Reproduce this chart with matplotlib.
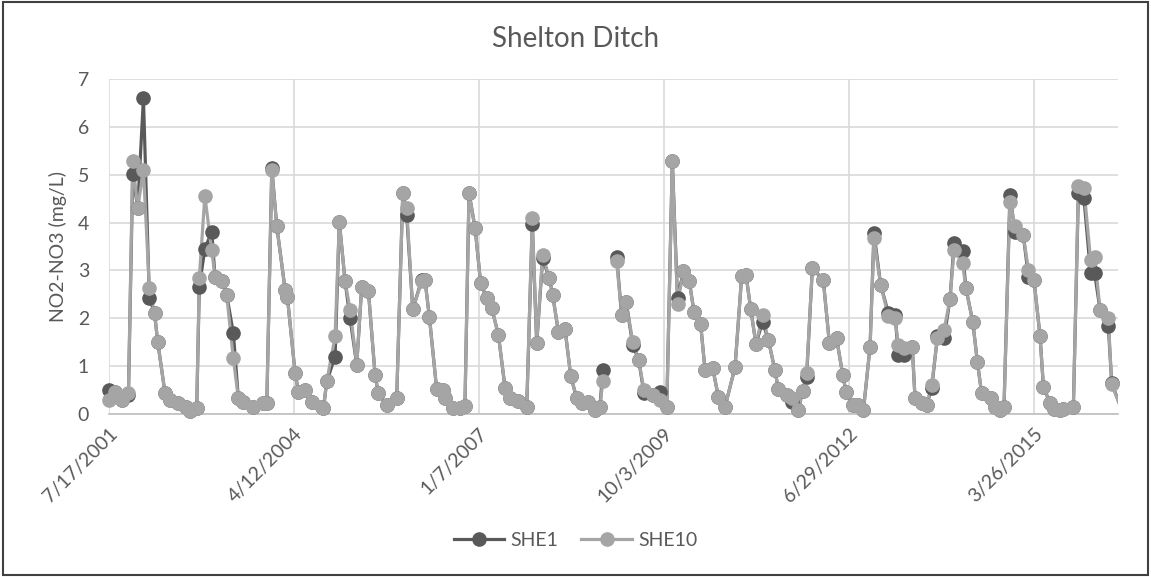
import matplotlib.pyplot as plt
import numpy as np
from matplotlib.patches import Rectangle

plt.rcParams['font.family'] = ['Lato', 'DejaVu Sans']

# sample dates, None = break in the record
dates = [
    '2001-07-17', '2001-08-21', '2001-09-26', '2001-11-01', '2001-11-24', '2001-12-21',
    '2002-01-21', '2002-02-22', '2002-03-22', '2002-04-08', '2002-05-18', '2002-06-14',
    '2002-07-29', '2002-09-08', '2002-09-30', '2002-11-05', '2002-11-19', '2002-12-19',
    '2003-01-25', '2003-02-12', '2003-03-20', '2003-04-16', '2003-05-22', '2003-06-18',
    '2003-07-15', '2003-09-07', '2003-10-31', '2003-11-19', '2003-12-16', '2004-01-12',
    '2004-02-26', '2004-03-09', '2004-04-20', '2004-05-08', '2004-06-13', '2004-07-19',
    '2004-09-11', '2004-09-20', '2004-10-08', '2004-11-22', '2004-12-15', '2005-01-15',
    '2005-02-11', '2005-03-19', '2005-04-15', '2005-05-21', '2005-06-26', '2005-07-14',
    '2005-08-28', '2005-10-21', '2005-11-23', '2005-12-14', '2006-01-16', '2006-03-05',
    '2006-03-23', '2006-04-16', '2006-05-25', '2006-06-30', '2006-07-09', '2006-08-23',
    '2006-09-29', '2006-10-25', '2006-11-16', '2006-12-19', '2007-01-18', '2007-02-19',
    '2007-03-19', '2007-04-24', '2007-05-30', '2007-06-26', '2007-08-10', '2007-09-24',
    '2007-10-24', '2007-11-17', '2007-12-19', '2008-01-24', '2008-02-11', '2008-03-13',
    '2008-04-18', '2008-05-19', '2008-06-20', '2008-07-17', '2008-08-22', '2008-09-27',
    '2008-10-24', '2008-11-08', '2008-12-15', '2009-01-22', '2009-02-18', '2009-03-14',
    '2009-04-19', '2009-05-21', '2009-06-19', '2009-08-09', '2009-09-14', '2009-10-20',
    '2009-11-19', '2009-12-17', '2010-01-18', '2010-02-19', '2010-03-16', '2010-04-21',
    '2010-05-15', '2010-06-25', '2010-07-26', '2010-08-31', '2010-10-24', '2010-11-29',
    '2010-12-22', '2011-01-17', '2011-02-14', '2011-03-22', '2011-04-22', '2011-05-28',
    '2011-06-15', '2011-07-30', '2011-08-26', '2011-10-01', '2011-10-25', '2011-11-15',
    '2011-12-16', '2012-02-13', '2012-03-17', '2012-04-25', '2012-05-28', '2012-06-15',
    '2012-07-21', '2012-08-21', '2012-09-17', '2012-10-23', '2012-11-13', '2012-12-19',
    '2013-01-30', '2013-03-07', '2013-03-25', '2013-04-24', '2013-06-08', '2013-06-23',
    '2013-07-29', '2013-08-25', '2013-09-21', '2013-10-22', '2013-11-27', '2013-12-29',
    '2014-01-20', '2014-03-07', '2014-03-25', '2014-05-01', '2014-05-26', '2014-06-18',
    '2014-08-06', '2014-08-29', '2014-09-25', '2014-10-17', '2014-11-18', '2014-12-15',
    '2015-01-29', '2015-02-26', '2015-03-28', '2015-04-30', '2015-05-18', '2015-06-23',
    '2015-07-14', '2015-08-13', '2015-09-03', '2015-10-27', '2015-11-23', '2015-12-23',
    '2016-01-28', '2016-02-19', '2016-03-19', '2016-05-03', '2016-05-21', '2016-07-08',
]

she1 = [
    0.50, 0.47, 0.30, 0.40, 5.01, 4.30,
    6.60, 2.42, 2.11, 1.51, 0.43, 0.29,
    0.22, 0.15, 0.07, 0.12, 2.66, 3.45,
    3.81, 2.87, 2.77, 2.49, 1.69, 0.33,
    0.26, 0.15, 0.22, 0.24, 5.14, 3.92,
    2.59, 2.45, 0.85, 0.47, 0.50, 0.26,
    0.15, 0.12, 0.68, 1.20, 4.02, 2.77,
    2.00, 1.03, 2.66, 2.58, 0.82, 0.43,
    0.19, 0.33, 4.62, 4.16, 2.19, 2.80,
    2.80, 2.02, 0.52, 0.50, 0.33, 0.12,
    0.12, 0.17, 4.62, 3.88, 2.73, 2.42,
    2.21, 1.65, 0.54, 0.33, 0.28, 0.15,
    3.97, 1.48, 3.25, 2.84, 2.49, 1.72,
    1.77, 0.79, 0.33, 0.22, 0.26, 0.08,
    0.15, 0.92, None, 3.29, 2.07, 2.35,
    1.44, 1.13, 0.43, 0.40, 0.47, 0.15,
    5.29, 2.42, 2.98, 2.77, 2.14, 1.88,
    0.91, 0.96, 0.36, 0.15, 0.98, 2.89,
    2.91, 2.19, 1.46, 1.93, 1.55, 0.91,
    0.52, 0.40, 0.26, 0.08, 0.49, 0.78,
    3.05, 2.80, 1.48, 1.58, 0.82, 0.47,
    0.19, 0.19, 0.08, 1.41, 3.79, 2.70,
    2.11, 2.07, 1.24, 1.23, 1.41, 0.33,
    0.22, 0.19, 0.54, 1.62, 1.58, 2.40,
    3.57, 3.40, 2.63, 1.93, 1.09, 0.43,
    0.33, 0.15, 0.08, 0.15, 4.58, 3.81,
    3.74, 2.87, 2.80, 1.62, 0.57, 0.22,
    0.10, 0.08, 0.10, 0.15, 4.62, 4.51,
    2.94, 2.94, 2.18, 1.83, 0.65, 0.15,
]

she10 = [
    0.29, 0.47, 0.29, 0.43, 5.28, 4.30,
    5.10, 2.63, 2.11, 1.51, 0.43, 0.29,
    0.22, 0.15, 0.07, 0.12, 2.84, 4.56,
    3.43, 2.87, 2.77, 2.49, 1.16, 0.33,
    0.26, 0.15, 0.22, 0.24, 5.10, 3.92,
    2.59, 2.45, 0.85, 0.47, 0.50, 0.26,
    0.15, 0.12, 0.68, 1.62, 4.02, 2.77,
    2.18, 1.03, 2.66, 2.58, 0.82, 0.43,
    0.19, 0.33, 4.62, 4.30, 2.19, 2.77,
    2.80, 2.02, 0.52, 0.50, 0.33, 0.12,
    0.12, 0.17, 4.62, 3.88, 2.73, 2.42,
    2.21, 1.65, 0.54, 0.33, 0.28, 0.15,
    4.09, 1.48, 3.33, 2.84, 2.49, 1.72,
    1.77, 0.79, 0.33, 0.22, 0.26, 0.08,
    0.15, 0.68, None, 3.19, 2.07, 2.35,
    1.51, 1.13, 0.50, 0.40, 0.29, 0.15,
    5.28, 2.30, 2.98, 2.77, 2.14, 1.88,
    0.91, 0.96, 0.36, 0.15, 0.98, 2.89,
    2.91, 2.19, 1.46, 2.07, 1.55, 0.91,
    0.52, 0.40, 0.33, 0.08, 0.49, 0.85,
    3.05, 2.80, 1.48, 1.58, 0.82, 0.47,
    0.19, 0.19, 0.08, 1.41, 3.67, 2.70,
    2.04, 2.00, 1.44, 1.37, 1.41, 0.33,
    0.22, 0.19, 0.61, 1.58, 1.76, 2.40,
    3.43, 3.15, 2.63, 1.93, 1.09, 0.43,
    0.33, 0.15, 0.08, 0.15, 4.44, 3.92,
    3.74, 3.01, 2.80, 1.62, 0.57, 0.22,
    0.10, 0.08, 0.10, 0.15, 4.76, 4.72,
    3.22, 3.29, 2.18, 2.00, 0.62, 0.15,
]

tick_dates = ['2001-07-17', '2004-04-12', '2007-01-07', '2009-10-03', '2012-06-29', '2015-03-26']
tick_labels = ['7/17/2001', '4/12/2004', '1/7/2007', '10/3/2009', '6/29/2012', '3/26/2015']

x = np.array(dates, dtype='datetime64[D]')
y1 = np.array([np.nan if v is None else v for v in she1])
y10 = np.array([np.nan if v is None else v for v in she10])

fig = plt.figure(figsize=(11.51, 5.77), dpi=100)
ax = fig.add_axes([0.0944, 0.2825, 0.8769, 0.5805])

c1 = '#595959'
c10 = '#A5A5A5'
x_start = np.datetime64('2001-07-17')
x_end = x_start + np.timedelta64(5456, 'D')
inside = x <= x_end

for yy, col, lab in [(y1, c1, 'SHE1'), (y10, c10, 'SHE10')]:
    ax.plot(x, yy, color=col, lw=2.3, zorder=3)
    ax.plot(x[inside], yy[inside], 'o', color=col, ms=9.5, zorder=4, clip_on=False)
    ax.plot([], [], '-o', color=col, lw=2.3, ms=9.5, label=lab)

ax.set_xlim(x_start, x_end)
ax.set_ylim(0, 7)
ax.set_yticks(range(8))
ax.set_xticks(np.array(tick_dates, dtype='datetime64[D]'))
ax.set_xticklabels(tick_labels, rotation=45, ha='right', rotation_mode='anchor')

ax.grid(True, color='#D9D9D9', lw=1.2, zorder=0)
for s in ['top', 'right', 'left']:
    ax.spines[s].set_visible(False)
ax.spines['bottom'].set_color('#BFBFBF')
ax.spines['bottom'].set_linewidth(1.2)
ax.tick_params(length=0, labelsize=14, labelcolor='#595959', pad=8)
ax.tick_params(axis='y', pad=14)

ax.set_ylabel('NO2-NO3 (mg/L)', fontsize=14, color='#595959', labelpad=8)
fig.suptitle('Shelton Ditch', fontsize=20, color='#595959', y=0.955)
fig.legend(loc='center', bbox_to_anchor=(0.5, 0.063), ncol=2, frameon=False,
           fontsize=14, labelcolor='#595959', handlelength=2.6, columnspacing=1.2,
           handletextpad=0.3)

fig.add_artist(Rectangle((0.003, 0.004), 0.994, 0.992, transform=fig.transFigure,
                         fill=False, edgecolor='#404040', lw=1.5))

fig.savefig('out.png', dpi=100)
